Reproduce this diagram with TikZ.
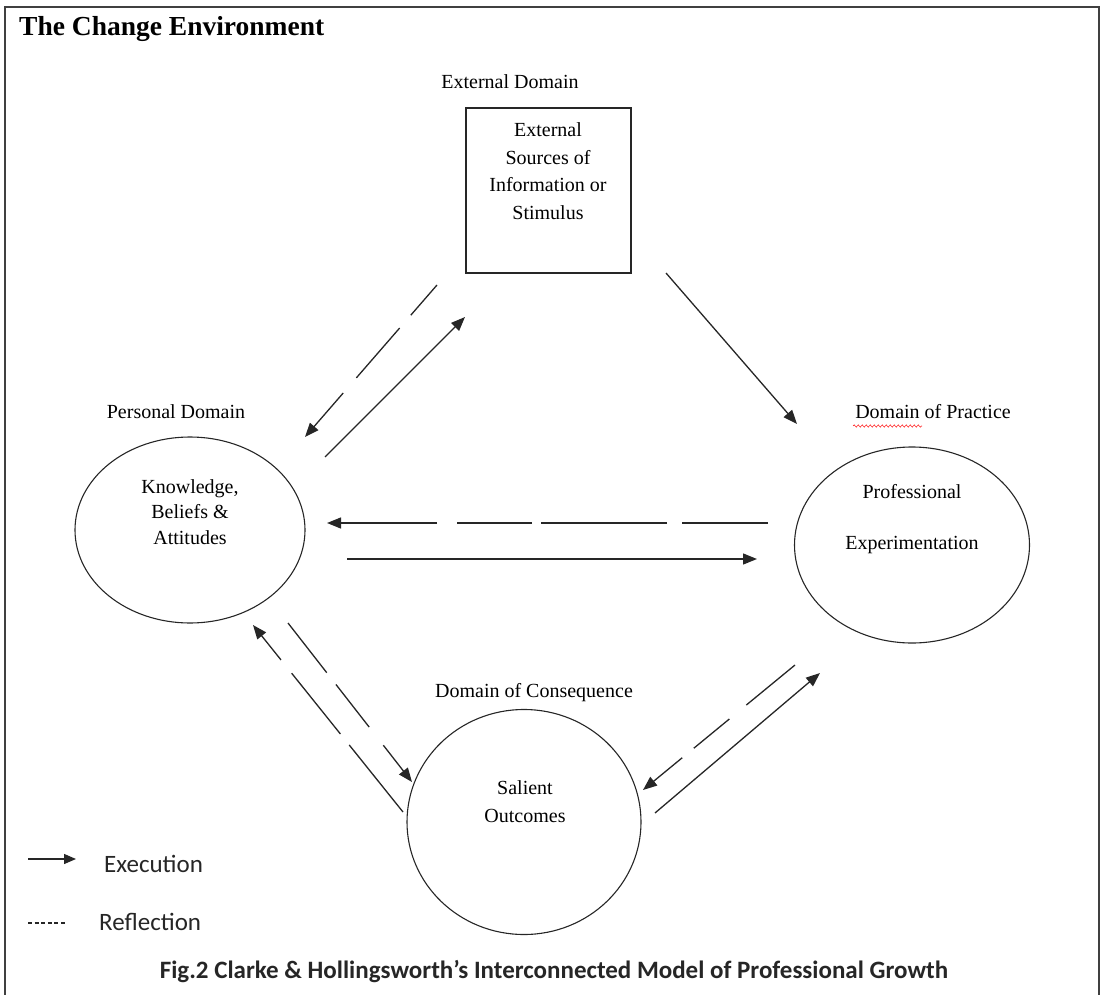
\documentclass[tikz,border=0pt]{standalone}
\usepackage{fontspec}
\setmainfont{Liberation Serif}
\newfontfamily\calfont{Carlito}
\usetikzlibrary{arrows.meta,shapes.geometric,decorations.pathmorphing}
\begin{document}
\begin{tikzpicture}[x=1pt,y=-1pt,
  lbl/.style={font=\fontsize{20}{27}\selectfont, align=center, inner sep=0pt},
  dom/.style={draw=black!85, line width=1.1pt, ellipse, inner sep=0pt},
  exe/.style={line width=1.3pt, draw=black!85, -{Triangle[length=14pt,width=11pt]}},
  legtxt/.style={font=\calfont\fontsize{25}{28}\selectfont, inner sep=0pt, text=black!85},
]
\useasboundingbox (0,0) rectangle (1102,995);
% frame
\draw[line width=2.2pt, black!75] (5,996) -- (5,7) -- (1099,7) -- (1099,996);
\node[font=\bfseries\fontsize{27.5}{31}\selectfont, anchor=west, inner sep=0pt] (title) at (19,29) {The Change Environment};

% domains
\node[draw=black!85, line width=1.1pt, minimum width=165pt, minimum height=165pt] (ext) at (548.5,190.5) {};
\node[dom, minimum width=230pt, minimum height=186pt] (kba) at (190,530) {};
\node[dom, minimum width=235pt, minimum height=196pt] (pe) at (912,545) {};
\node[dom, minimum width=234pt, minimum height=225pt] (so) at (524,822) {};

% texts
\node[lbl, font=\fontsize{20}{27.5}\selectfont] (extt) at (548,171) {External\\Sources of\\Information or\\Stimulus};
\node[lbl, font=\fontsize{20}{25.5}\selectfont] (kbat) at (190,512) {Knowledge,\\Beliefs \&\\Attitudes};
\node[lbl, font=\fontsize{20}{25}\selectfont] (pet) at (912,519.5) {Professional\\[26pt]Experimentation};
\node[lbl, font=\fontsize{20}{28}\selectfont] (sot) at (525,802) {Salient\\Outcomes};

% domain labels
\node[lbl] (extl) at (510,82) {External Domain};
\node[lbl] (kbal) at (176,412) {Personal Domain};
\node[lbl] (pel) at (933,412) {Domain of Practice};
\node[lbl] (sol) at (534,693) {Domain of Consequence};
\draw[red!85, line width=0.6pt, decorate, decoration={snake, amplitude=1.1pt, segment length=4pt}] (853,426) -- (922,426);

% connector end points
\coordinate (a1) at (437,285); \coordinate (a2) at (305,437);
\coordinate (b1) at (325,457); \coordinate (b2) at (465,317);
\coordinate (c1) at (666,273); \coordinate (c2) at (797,424);
\coordinate (d1) at (768,523); \coordinate (d2) at (327,523);
\coordinate (e1) at (347,559); \coordinate (e2) at (757,559);
\coordinate (f1) at (795,665); \coordinate (f2) at (643,790);
\coordinate (g1) at (655,813); \coordinate (g2) at (820,673);
\coordinate (h1) at (403,812); \coordinate (h2) at (253,625);
\coordinate (i1) at (288,623); \coordinate (i2) at (412,782);

% connectors
\draw[exe, dash pattern=on 40pt off 17pt on 66pt off 20pt on 120pt] (a1) -- (a2);
\draw[exe] (b1) -- (b2);
\draw[exe] (c1) -- (c2);
\draw[exe, dash pattern=on 86pt off 15pt on 126pt off 9pt on 75pt off 20pt on 200pt] (d1) -- (d2);
\draw[exe] (e1) -- (e2);
\draw[exe, dash pattern=on 63pt off 22pt on 46pt off 15pt on 120pt] (f1) -- (f2);
\draw[exe] (g1) -- (g2);
\draw[exe, dash pattern=on 86pt off 14pt on 78pt off 17pt on 120pt] (h1) -- (h2);
\draw[exe, dash pattern=on 63pt off 15pt on 54pt off 23pt on 120pt] (i1) -- (i2);

% legend
\coordinate (l1) at (28,859); \coordinate (l2) at (76,859);
\draw[line width=1.3pt, draw=black!85, -{Triangle[length=12pt,width=10pt]}] (l1) -- (l2);
\coordinate (m1) at (28,923); \coordinate (m2) at (66,923);
\draw[line width=1.1pt, draw=black!85, dash pattern=on 4pt off 2.6pt] (m1) -- (m2);
\node[legtxt, anchor=west] (lexe) at (104,864) {Execution};
\node[legtxt, anchor=west] (lref) at (99,922) {Reflection};

% caption
\node[font=\calfont\bfseries\fontsize{25}{28}\selectfont, inner sep=0pt, text=black!85] (cap) at (554,972) {Fig.2 Clarke \& Hollingsworth’s Interconnected Model of Professional Growth};
\end{tikzpicture}
\end{document}
